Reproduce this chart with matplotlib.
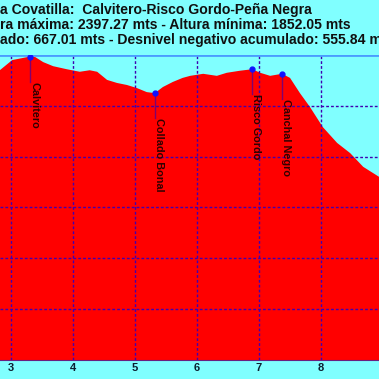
import numpy as np
import matplotlib
matplotlib.use("Agg")
import matplotlib.pyplot as plt

plt.rcParams['font.family'] = ['Liberation Sans', 'DejaVu Sans']

# elevation profile (km, m)
dist = [2.82, 3.02, 3.31, 3.39, 3.52, 3.68, 3.90, 4.11, 4.27, 4.39, 4.55, 4.71,
        4.87, 5.03, 5.19, 5.32, 5.45, 5.61, 5.77, 5.89, 6.10, 6.32, 6.48, 6.69,
        6.89, 7.02, 7.18, 7.37, 7.50, 7.66, 7.82, 8.03, 8.26, 8.47, 8.68, 8.94]
elev = [2370, 2390, 2397, 2396, 2386, 2378, 2372, 2367, 2370, 2367, 2351, 2345,
        2341, 2335, 2327, 2325, 2337, 2347, 2355, 2359, 2363, 2359, 2365, 2369,
        2372, 2365, 2359, 2363, 2355, 2325, 2298, 2258, 2227, 2207, 2180, 2160]

# named points
wp_names = ["Calvitero", "Collado Bonal", "Risco Gordo", "Canchal Negro"]
wp_dist = [3.31, 5.32, 6.89, 7.37]
wp_elev = [2397, 2325, 2372, 2363]

title_lines = ["a Covatilla:  Calvitero-Risco Gordo-Peña Negra",
               "ra máxima: 2397.27 mts - Altura mínima: 1852.05 mts",
               "ado: 667.01 mts - Desnivel negativo acumulado: 555.84 m"]

km_ticks = [3, 4, 5, 6, 7, 8]
elev_grid = [1900, 2000, 2100, 2200, 2300]

bg = '#80ffff'
fig = plt.figure(figsize=(3.79, 3.79), dpi=100, facecolor=bg)
ax = fig.add_axes([0, 1 - 360 / 379, 1, 305 / 379], facecolor=bg)

ax.fill_between(dist, elev, 1800, color='#ff0000', lw=0, zorder=1)
ax.set_xlim(2.823, 8.935)
ax.set_ylim(1800, 2400)

# dashed grid drawn over the profile
for k in km_ticks:
    ax.axvline(k, color='#4000b0', lw=1.0, ls=(0, (2, 1.5)), zorder=2)
for h in elev_grid:
    ax.axhline(h, color='#4000b0', lw=1.0, ls=(0, (2, 1.5)), zorder=2)
ax.axhline(2400, color='#4a9cff', lw=2, zorder=3)

ax.set_xticks(km_ticks)
ax.set_yticks([])
for s in ['left', 'right', 'top']:
    ax.spines[s].set_visible(False)
ax.spines['bottom'].set_color('#6a2080')
ax.tick_params(axis='x', length=0, pad=2, labelsize=8, labelcolor='#0a2030')
for lab in ax.get_xticklabels():
    lab.set_fontweight('bold')

drop = 25 * 600 / 305
for name, x, y in zip(wp_names, wp_dist, wp_elev):
    ax.plot([x, x], [y, y - drop], color='#800070', lw=1, zorder=4)
    ax.plot(x, y, 'o', color='#1010ff', ms=3.5, zorder=5)
    ax.text(x - 0.015, y - drop, name, rotation=-90, ha='left', va='top',
            fontsize=7.8, fontweight='bold', color='#300000', zorder=5)

for i, line in enumerate(title_lines):
    fig.text(0.0, 1 - (10 + 15 * i) / 379, line, ha='left', va='center',
             fontsize=10.1, fontweight='bold', color='#101010')

fig.savefig('out.png', dpi=100, facecolor=bg)
